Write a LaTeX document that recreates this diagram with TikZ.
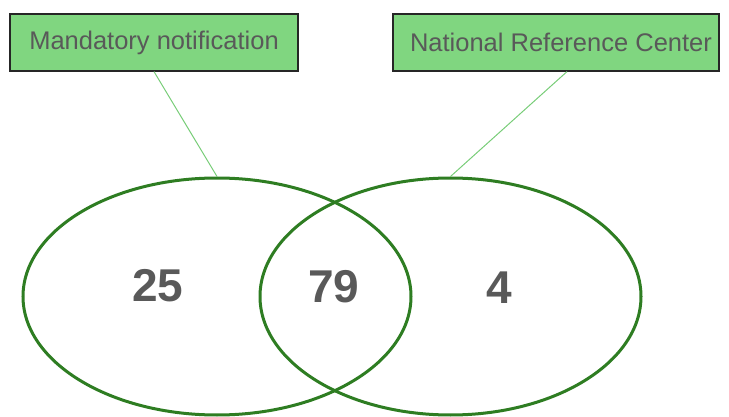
\documentclass[tikz,border=0pt]{standalone}
\usepackage{fontspec}
\setmainfont{Liberation Sans}
\usepackage{xcolor}
\usetikzlibrary{shapes.geometric}
\definecolor{boxgreen}{RGB}{128,214,128}
\definecolor{ringgreen}{RGB}{46,125,34}
\definecolor{linkgreen}{RGB}{120,205,120}
\definecolor{textgray}{RGB}{89,89,89}

\begin{document}
\begin{tikzpicture}[x=1pt,y=-1pt,
  label box/.style={draw=black!85,line width=1.2pt,fill=boxgreen,text=textgray,
    minimum height=57pt,inner sep=0pt,font=\fontsize{25.5}{30}\selectfont},
  ring/.style={ellipse,draw=ringgreen,line width=3pt,inner sep=0pt,minimum height=237pt},
  count/.style={text=textgray,font=\fontsize{46}{50}\selectfont\bfseries},
  link/.style={draw=linkgreen,line width=1pt}]
\useasboundingbox (0,0) rectangle (729,417);
% the two sets
\node[ring,minimum width=388pt] (notif) at (217,296.5) {};
\node[ring,minimum width=381pt] (nrc) at (450.5,296.5) {};
\node[count] (only notif) at (158,286) {25};
\node[count] (both) at (334,287) {79};
\node[count] (only nrc) at (499,288) {4};
% labels
\node[label box,minimum width=288pt] (notif box) at (154,42.5) {Mandatory notification};
\node[label box,minimum width=326pt] (nrc box) at (556,42.5) {\hspace*{10pt}National Reference Center};
\draw[link] (notif box.south) -- (notif.north);
\draw[link] ([xshift=11pt]nrc box.south) -- (nrc.north);
\end{tikzpicture}
\end{document}
